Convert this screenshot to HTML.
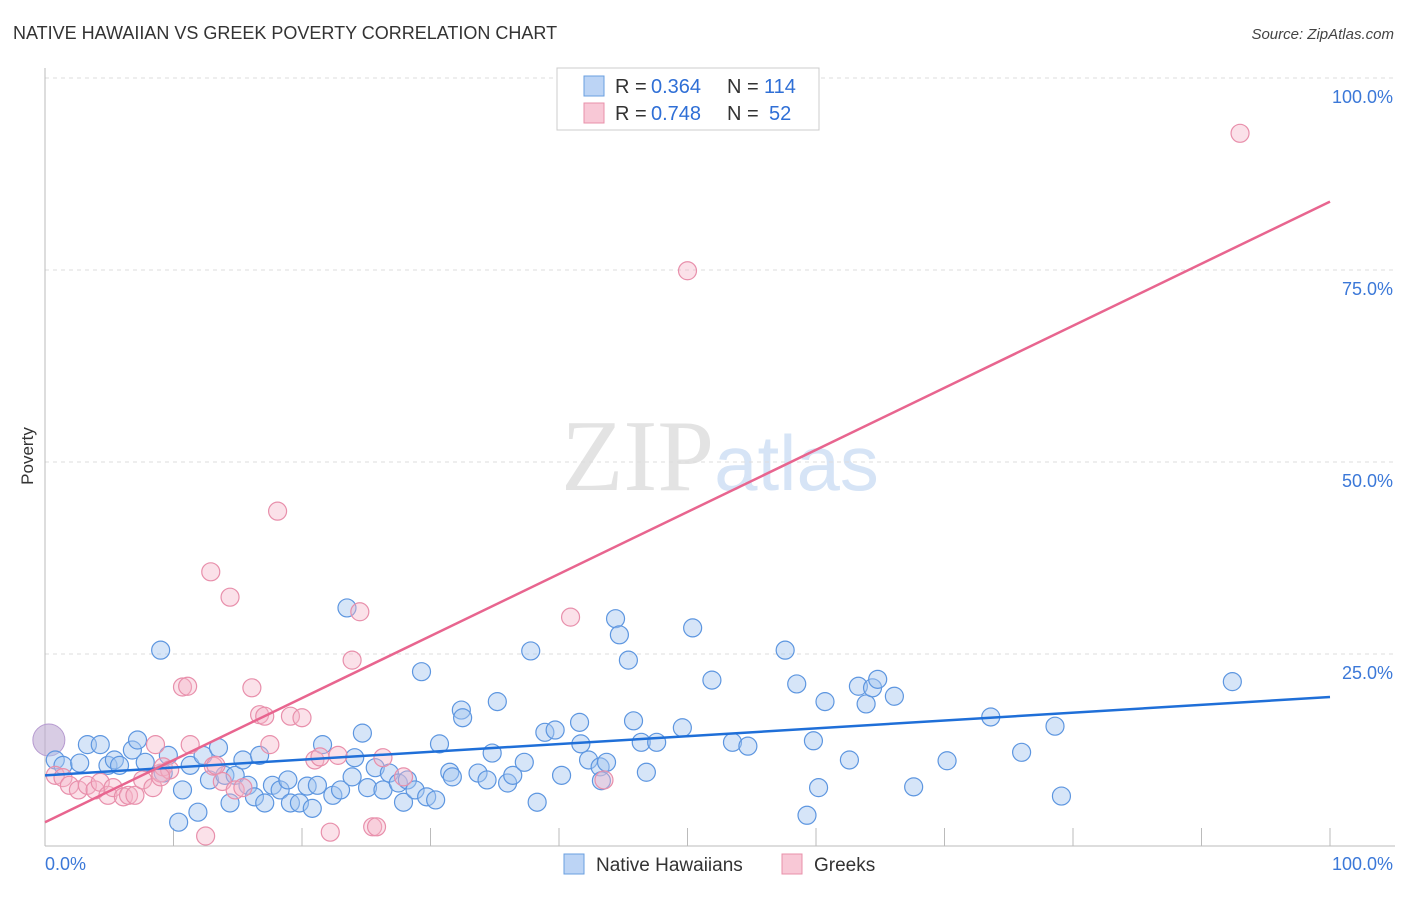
<!DOCTYPE html>
<html><head><meta charset="utf-8"><style>
body{margin:0;background:#fff;font-family:"Liberation Sans",sans-serif}
svg text{font-family:"Liberation Sans",sans-serif}
</style></head><body>
<svg id="chart" width="1406" height="892" xmlns="http://www.w3.org/2000/svg">
<text x="13" y="39" font-size="18" fill="#333">NATIVE HAWAIIAN VS GREEK POVERTY CORRELATION CHART</text>
<text x="1394" y="39" font-size="15" fill="#444" text-anchor="end" font-style="italic">Source: ZipAtlas.com</text>
<text x="720" y="490" font-size="102" text-anchor="middle"><tspan fill="#e3e3e3" font-family="Liberation Serif">ZIP</tspan><tspan fill="#d6e4f6" font-size="78">atlas</tspan></text>
<text transform="translate(33,456) rotate(-90)" font-size="17" fill="#333" text-anchor="middle">Poverty</text>
<g id="grid"></g><g id="axes"></g><g id="pts"></g><g id="lines"></g>
<g>
<rect x="557" y="68" width="262" height="62" fill="#fff" stroke="#ccc"/>
<rect x="584" y="76" width="20" height="20" fill="#bcd4f5" stroke="#6a9fe0"/>
<rect x="584" y="103" width="20" height="20" fill="#f8c8d6" stroke="#e890aa"/>
<text x="615" y="93" font-size="20" fill="#333">R =</text>
<text x="651" y="93" font-size="20" fill="#2f6fd6">0.364</text>
<text x="727" y="93" font-size="20" fill="#333">N =</text>
<text x="764" y="93" font-size="20" fill="#2f6fd6">114</text>
<text x="615" y="120" font-size="20" fill="#333">R =</text>
<text x="651" y="120" font-size="20" fill="#2f6fd6">0.748</text>
<text x="727" y="120" font-size="20" fill="#333">N =</text>
<text x="769" y="120" font-size="20" fill="#2f6fd6">52</text>
</g>
<g>
<rect x="564" y="854" width="20" height="20" fill="#bcd4f5" stroke="#6a9fe0"/>
<text x="596" y="871" font-size="19" fill="#333">Native Hawaiians</text>
<rect x="782" y="854" width="20" height="20" fill="#f8c8d6" stroke="#e890aa"/>
<text x="814" y="871" font-size="19" fill="#333">Greeks</text>
</g>
</svg>
<script>
const blueX=[0.8,1.4,2.7,3.3,4.3,4.9,5.4,5.8,6.8,7.2,7.8,9.0,9.2,9.6,10.4,10.7,11.3,11.9,12.3,12.8,13.5,14.0,14.4,14.8,15.4,15.8,16.3,16.7,17.1,17.7,18.3,18.9,19.1,19.8,20.4,20.8,21.2,21.6,22.4,23.0,23.5,23.9,24.1,24.7,25.1,25.7,26.3,26.8,27.5,27.9,28.2,28.8,29.3,29.7,30.4,30.7,31.5,31.7,32.4,32.5,33.7,34.4,34.8,35.2,36.0,36.4,37.3,37.8,38.3,38.9,39.7,40.2,41.6,41.7,42.3,43.2,43.3,43.7,44.4,44.7,45.4,45.8,46.4,46.8,47.6,49.6,50.4,51.9,53.5,54.7,57.6,58.5,59.8,60.2,60.7,59.3,62.6,63.3,63.9,64.4,64.8,66.1,70.2,73.6,76.0,78.6,79.1,92.4,67.6];
const blueY=[11.2,10.5,10.8,13.2,13.2,10.5,11.2,10.5,12.5,13.8,10.9,25.5,9.5,11.8,3.1,7.3,10.5,4.4,11.8,8.6,12.8,9.2,5.6,9.2,11.2,7.9,6.4,11.8,5.6,7.9,7.3,8.6,5.6,5.6,7.8,4.9,7.9,13.2,6.6,7.3,31.0,9.0,11.5,14.7,7.6,10.2,7.3,9.5,8.2,5.7,8.6,7.3,22.7,6.4,6.0,13.3,9.6,9.0,17.7,16.7,9.5,8.6,12.1,18.8,8.2,9.2,10.9,25.4,5.7,14.8,15.1,9.2,16.1,13.3,11.2,10.3,8.5,10.9,29.6,27.5,24.2,16.3,13.5,9.6,13.5,15.4,28.4,21.6,13.5,13.0,25.5,21.1,13.7,7.6,18.8,4.0,11.2,20.8,18.5,20.6,21.7,19.5,11.1,16.8,12.2,15.6,6.5,21.4,7.7];
const pinkX=[0.8,1.4,1.9,2.6,3.3,3.9,4.3,4.9,5.3,6.1,6.5,7.0,7.6,8.4,8.6,9.0,9.2,9.7,10.7,11.1,11.3,12.9,13.1,13.3,13.8,14.4,14.8,15.4,16.1,16.7,17.1,17.5,18.1,19.1,20.0,21.0,21.4,22.2,22.8,23.9,24.5,25.5,25.8,26.3,27.9,40.9,43.5,50.0,93.0,12.5,9.0];
const pinkY=[9.2,8.9,7.9,7.3,7.9,7.3,8.3,6.6,7.6,6.4,6.6,6.6,8.6,7.6,13.2,9.5,10.3,9.9,20.7,20.8,13.2,35.7,10.4,10.5,8.4,32.4,7.3,7.6,20.6,17.1,16.9,13.2,43.6,16.9,16.7,11.2,11.6,1.8,11.8,24.2,30.5,2.5,2.5,11.5,9.0,29.8,8.6,74.9,92.8,1.3,9.0];
const blueLine=[9.2,19.4], pinkLine=[3.1,83.9];
const yTicks=[25,50,75,100];
const X0=45,X1=1330,Y0=846,Y1=78;
const sx=v=>X0+(X1-X0)*v/100, sy=v=>Y0-(Y0-Y1)*v/100;
const NS="http://www.w3.org/2000/svg";
function mk(t,a,p){const e=document.createElementNS(NS,t);for(const k in a)e.setAttribute(k,a[k]);p.appendChild(e);return e;}
const grid=document.getElementById('grid'),axes=document.getElementById('axes');
yTicks.forEach(t=>{
 const l=mk('line',{x1:X0,x2:1395,y1:sy(t),y2:sy(t),stroke:'#ddd','stroke-dasharray':'4,4'},grid);
 
 
 const tx=mk('text',{x:1393,y:sy(t)+25,'font-size':18,fill:'#3b78d8','text-anchor':'end'},axes);
 tx.textContent=t.toFixed(1)+'%';
 
 
});
mk('line',{x1:X0,x2:X0,y1:68,y2:Y0,stroke:'#bbb'},axes);
mk('line',{x1:X0,x2:1395,y1:Y0,y2:Y0,stroke:'#bbb'},axes);
for(let i=0;i<=10;i++){const t=mk('line',{x1:sx(i*10),x2:sx(i*10),y1:828,y2:Y0,stroke:'#bbb'},axes);
 
 }
const xl=mk('text',{x:45,y:870,'font-size':18,fill:'#3b78d8'},axes);xl.textContent='0.0%';


const xr=mk('text',{x:1393,y:870,'font-size':18,fill:'#3b78d8','text-anchor':'end'},axes);xr.textContent='100.0%';


const pts=document.getElementById('pts');
const big1=mk('circle',{cx:sx(0.3),cy:sy(13.8),r:16,fill:'rgba(190,170,210,0.6)',stroke:'#b69ad0'},pts);


blueX.forEach((x,i)=>{const c=mk('circle',{cx:sx(x),cy:sy(blueY[i]),r:9,fill:'rgba(165,198,240,0.45)',stroke:'#5d96e0','stroke-width':1.2},pts);
 
 });
pinkX.forEach((x,i)=>{const c=mk('circle',{cx:sx(x),cy:sy(pinkY[i]),r:9,fill:'rgba(245,180,200,0.4)',stroke:'#e88fab','stroke-width':1.2},pts);
 
 });
const lines=document.getElementById('lines');
const bl=mk('line',{x1:sx(0),y1:sy(blueLine[0]),x2:sx(100),y2:sy(blueLine[1]),stroke:'#1f6fd8','stroke-width':2.5},lines);


const pl=mk('line',{x1:sx(0),y1:sy(pinkLine[0]),x2:sx(100),y2:sy(pinkLine[1]),stroke:'#e8658f','stroke-width':2.5},lines);


</script>
</body></html>
